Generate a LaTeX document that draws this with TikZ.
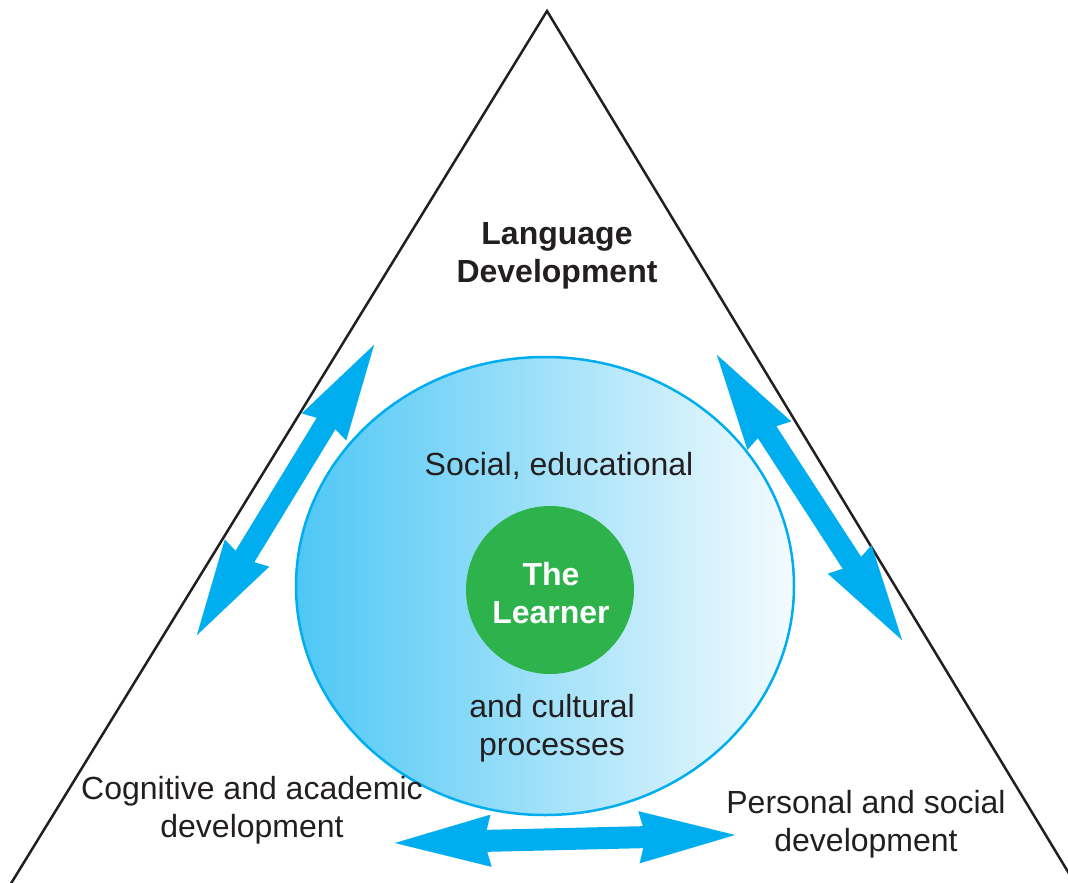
\documentclass[tikz,border=0pt]{standalone}
\usepackage{fontspec}
\setmainfont{Liberation Sans}
\usetikzlibrary{arrows.meta,shapes.geometric}
\definecolor{cyanA}{RGB}{0,174,239}
\definecolor{greenL}{RGB}{46,178,75}
\definecolor{txt}{RGB}{35,31,32}
\definecolor{blueL}{RGB}{78,199,245}
\definecolor{blueR}{RGB}{244,251,254}
\begin{document}
\begin{tikzpicture}[x=1pt,y=-1pt,
  lbl/.style={font=\fontsize{32}{38}\selectfont, text=txt, align=center, inner sep=0pt},
  dblarrow/.style={cyanA, line width=22pt, {Stealth[length=96pt,width=52pt,inset=7pt,line width=0.01pt]}-{Stealth[length=96pt,width=52pt,inset=7pt,line width=0.01pt]}},
]
\useasboundingbox (0,0) rectangle (1068,883);
% triangle
\begin{scope}
  \clip (0,0) rectangle (1068,883);
  \coordinate (tl) at (7,890);
  \coordinate (apex) at (547,11);
  \coordinate (tr) at (1079,890);
  \draw[line width=2.5pt, txt, line join=miter] (tl) -- (apex) -- (tr);
\end{scope}
% outer circle
\node (outer) [ellipse, draw=cyanA, line width=2.5pt, left color=blueL, right color=blueR,
  minimum width=498pt, minimum height=458pt, inner sep=0pt] at (545,586) {};
% learner
\node (learner) [circle, fill=greenL, minimum size=168pt, inner sep=0pt] at (550,590) {};
\node (learnertext) [text=white, inner sep=0pt, font=\fontsize{32}{38}\selectfont\bfseries,
  align=center] at (551,593) {The\\Learner};
% labels
\node (lang) [lbl, font=\fontsize{32}{38}\selectfont\bfseries] at (557,256) {Language\\Development};
\node (soc) [lbl] at (559,466) {Social, educational};
\node (cult) [lbl] at (552,728) {and cultural\\processes};
\node (cog) [lbl] at (252,810) {Cognitive and academic\\development};
\node (pers) [lbl] at (866,824) {Personal and social\\development};
% arrows
\coordinate (la1) at (197,635); \coordinate (la2) at (374,345);
\coordinate (ra1) at (717,355); \coordinate (ra2) at (902,640);
\coordinate (ba1) at (395,843); \coordinate (ba2) at (735,835);
\draw[dblarrow] (la1) -- (la2);
\draw[dblarrow] (ra1) -- (ra2);
\draw[dblarrow] (ba1) -- (ba2);
\end{tikzpicture}
\end{document}
